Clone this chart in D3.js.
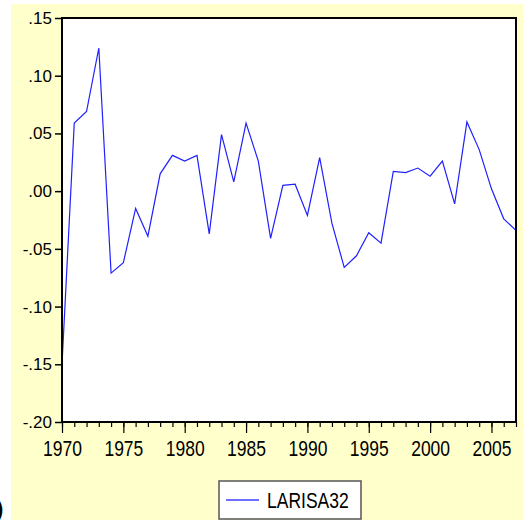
<!DOCTYPE html>
<html>
<head>
<meta charset="utf-8">
<script src="https://cdn.jsdelivr.net/npm/d3@7"></script>
<style>
  body { margin: 0; background: #fff; }
  svg { display: block; }
  text { font-family: "Liberation Sans", Arial, sans-serif; fill: #000; }
</style>
</head>
<body>
<svg width="523" height="520"></svg>
<script>
/* DATA */
var years = d3.range(1970, 2008);
var larisa32 = [
	-0.150, 0.059, 0.069, 0.124, -0.071, -0.062, -0.015, -0.039, 0.015, 0.031,
	0.026, 0.031, -0.037, 0.049, 0.008, 0.059, 0.026, -0.041, 0.005, 0.006,
	-0.021, 0.029, -0.028, -0.066, -0.056, -0.036, -0.045, 0.017, 0.016, 0.020,
	0.013, 0.026, -0.011, 0.060, 0.036, 0.002, -0.024, -0.034
];
var yTicks = [0.15, 0.10, 0.05, 0.00, -0.05, -0.10, -0.15, -0.20];
var yTickLabels = [".15", ".10", ".05", ".00", "-.05", "-.10", "-.15", "-.20"];
var xTicks = [1970, 1975, 1980, 1985, 1990, 1995, 2000, 2005];
var seriesName = "LARISA32";

/* SVG */
var svg = d3.select("svg");
var frame = { left: 62, top: 18, right: 516, bottom: 422 };

// pale yellow page, white strip at top and left
svg.append("rect")
	.attr("x", 11).attr("y", 4)
	.attr("width", 512).attr("height", 516)
	.attr("fill", "#ffffcc");

/* SCALES */
var x = d3.scaleLinear().domain([1970, 2007]).range([frame.left, frame.right]);
var y = d3.scaleLinear().domain([-0.20, 0.15]).range([frame.bottom, frame.top]);

// plot area
svg.append("rect")
	.attr("x", frame.left).attr("y", frame.top)
	.attr("width", frame.right - frame.left)
	.attr("height", frame.bottom - frame.top)
	.attr("fill", "#fff");

/* LINE */
var line = d3.line()
	.x(function (d, i) { return x(years[i]); })
	.y(function (d) { return y(d); });

svg.append("path")
	.datum(larisa32)
	.attr("d", line)
	.attr("fill", "none")
	.attr("stroke", "#2020ff")
	.attr("stroke-width", 1.2);

// frame border
svg.append("rect")
	.attr("x", frame.left).attr("y", frame.top)
	.attr("width", frame.right - frame.left)
	.attr("height", frame.bottom - frame.top)
	.attr("fill", "none")
	.attr("stroke", "#000")
	.attr("stroke-width", 2);

/* Y AXIS */
var yAxis = d3.axisLeft(y)
	.tickValues(yTicks)
	.tickSize(7)
	.tickPadding(3)
	.tickFormat(function (d, i) { return yTickLabels[i]; });

var gy = svg.append("g")
	.attr("transform", "translate(" + frame.left + ",0)")
	.call(yAxis);
gy.select(".domain").remove();
gy.selectAll("line").attr("stroke", "#000").attr("stroke-width", 1.5);
gy.selectAll("text")
	.style("font-size", "17px")
	.style("font-family", "'Liberation Sans', Arial, sans-serif")
	.attr("fill", "#000");

/* X AXIS */
var xMinor = d3.axisBottom(x)
	.tickValues(years)
	.tickSize(5)
	.tickFormat("");
var gxm = svg.append("g")
	.attr("transform", "translate(0," + frame.bottom + ")")
	.call(xMinor);
gxm.select(".domain").remove();
gxm.selectAll("line").attr("stroke", "#000").attr("stroke-width", 1.2);

var xAxis = d3.axisBottom(x)
	.tickValues(xTicks)
	.tickSize(11)
	.tickFormat(d3.format("d"));
var gx = svg.append("g")
	.attr("transform", "translate(0," + frame.bottom + ")")
	.call(xAxis);
gx.select(".domain").remove();
gx.selectAll("line").attr("stroke", "#000").attr("stroke-width", 1.2);
gx.selectAll("text").remove();

// year labels are a bit tall in the original, so stretch them vertically
gx.selectAll(".tick")
	.append("text")
	.attr("transform", "translate(0,34) scale(1,1.25)")
	.attr("text-anchor", "middle")
	.style("font-size", "17.5px")
	.style("font-family", "'Liberation Sans', Arial, sans-serif")
	.attr("fill", "#000")
	.text(function (d) { return d; });

/* LEGEND */
var legend = svg.append("g").attr("transform", "translate(219,481)");
legend.append("rect")
	.attr("width", 142).attr("height", 38)
	.attr("fill", "#fff")
	.attr("stroke", "#555")
	.attr("stroke-width", 1.5);
legend.append("line")
	.attr("x1", 7).attr("x2", 40)
	.attr("y1", 19).attr("y2", 19)
	.attr("stroke", "#6f6fff")
	.attr("stroke-width", 2);
legend.append("text")
	.attr("transform", "translate(48,27) scale(1,1.25)")
	.style("font-size", "17.5px")
	.text(seriesName);

// stray glyph cut off at the lower left edge, as in the original
svg.append("text")
	.attr("x", -4).attr("y", 516)
	.style("font-size", "22px")
	.style("font-weight", "bold")
	.attr("fill", "#000")
	.text(")");
</script>
</body>
</html>
